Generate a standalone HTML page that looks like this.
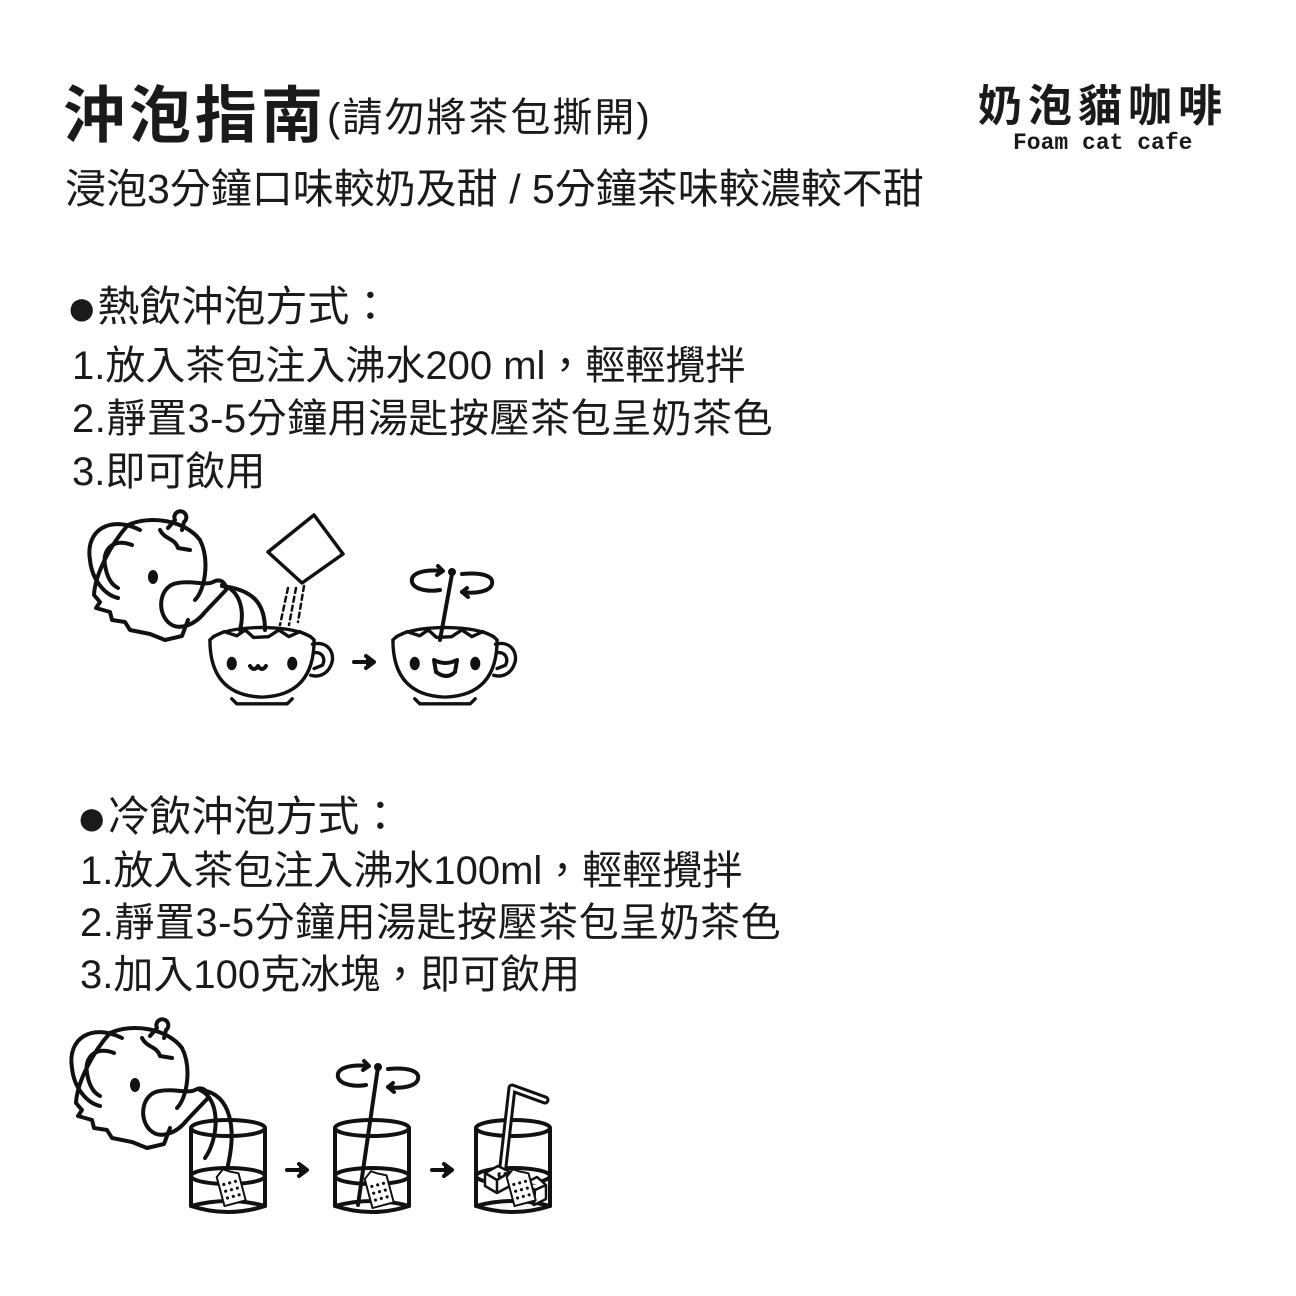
<!DOCTYPE html>
<html><head><meta charset="utf-8"><style>
html,body{margin:0;padding:0;background:#fff}
body{width:1296px;height:1296px;position:relative;overflow:hidden;font-family:"Liberation Sans","Noto Sans CJK TC",sans-serif;color:#1a1a1a}
.t{position:absolute;white-space:nowrap;line-height:1}
.b{font-size:52px;vertical-align:-4px}
</style></head><body>
<div class="t" style="left:63px;top:86px;font-size:62px;font-weight:bold;letter-spacing:4px">沖泡指南<span style="font-size:40px;font-weight:normal;letter-spacing:2px;vertical-align:6px">(請勿將茶包撕開)</span></div>
<div class="t" style="left:65px;top:169px;font-size:41px">浸泡3分鐘口味較奶及甜 / 5分鐘茶味較濃較不甜</div>
<div class="t" style="left:978px;top:85px;font-size:44px;font-weight:bold;letter-spacing:6px">奶泡貓咖啡</div>
<div class="t" style="left:1013px;top:132px;font-size:23px;font-weight:bold;font-family:'Liberation Mono',monospace">Foam cat cafe</div>

<div class="t" style="left:66px;top:282px;font-size:42px"><span class="b">●</span>熱飲沖泡方式：</div>
<div class="t" style="left:72px;top:346px;font-size:40px">1.放入茶包注入沸水200 ml，輕輕攪拌</div>
<div class="t" style="left:72px;top:399px;font-size:40px;letter-spacing:0.5px">2.靜置3-5分鐘用湯匙按壓茶包呈奶茶色</div>
<div class="t" style="left:72px;top:452px;font-size:40px">3.即可飲用</div>

<div class="t" style="left:76px;top:792px;font-size:42px"><span class="b">●</span>冷飲沖泡方式：</div>
<div class="t" style="left:80px;top:851px;font-size:40px">1.放入茶包注入沸水100ml，輕輕攪拌</div>
<div class="t" style="left:80px;top:903px;font-size:40px;letter-spacing:0.5px">2.靜置3-5分鐘用湯匙按壓茶包呈奶茶色</div>
<div class="t" style="left:80px;top:955px;font-size:40px">3.加入100克冰塊，即可飲用</div>

<svg width="1296" height="1296" style="position:absolute;left:0;top:0" fill="none" stroke="#111" stroke-width="4" stroke-linecap="round" stroke-linejoin="round">
<defs>
<g id="pot">
  <path d="M140,530 C110,515 85,530 90,560 C92,580 105,595 118,598" />
  <path d="M132,545 C115,538 102,548 105,565 C107,578 112,585 118,588"/>
  <path d="M128,525 C150,515 185,520 200,540 C210,560 205,590 195,600"/>
  <path d="M128,525 C110,545 95,575 94,595 L100,602 L96,608 L110,612 L112,620 L125,622 L130,630 L150,634 L165,640 L182,636 L188,620"/>
  <path d="M168,528 L175,520 A6,6 0 1 1 184,522 L182,530"/>
  <path d="M160,530 C165,540 175,538 178,548 L190,550"/>
  <path d="M178,583 C160,585 156,610 168,622 C178,632 195,625 205,612 L226,590 C226,582 220,578 213,582 C205,586 192,580 178,583Z"/>
  <ellipse cx="153" cy="577" rx="5" ry="7" fill="#111" stroke="none"/>
</g>
<g id="cup">
  <path d="M-62,0 Q-62,66 0,68 Q62,66 62,0"/>
  <path d="M-62,0 Q-50,-14 0,-15 Q50,-14 62,0"/>
  <path d="M-58,-4 L-45,-10 L-30,-5 L-20,-12 L-10,-3 L8,-4 L20,-12 L32,-4 L45,-10 L58,-4"/>
  <path d="M-36,70 L-30,76 L30,76 L36,70"/>
  <path d="M60,5 C80,0 88,18 82,30 C78,40 68,45 58,42"/>
  <path d="M62,15 C72,14 76,22 72,30 L62,34"/>
  <ellipse cx="-36" cy="28" rx="6" ry="8" fill="#111" stroke="none"/>
  <ellipse cx="36" cy="28" rx="6" ry="8" fill="#111" stroke="none"/>
</g>
<g id="glass">
  <ellipse cx="0" cy="0" rx="37" ry="8"/>
  <path d="M-37,0 L-37,78 Q0,90 37,78 L37,0"/>
  <path d="M-37,78 Q0,68 37,78"/>
  <ellipse cx="0" cy="48" rx="37" ry="8"/>
</g>
<g id="bag">
  <path d="M-10,-14 L-2,-20 L4,-16 L12,-12 L12,16 L-10,16 Z" stroke-width="2" fill="#fff"/>
  <g fill="#111" stroke="none">
   <circle cx="-5" cy="-5" r="1.6"/><circle cx="1" cy="-5" r="1.6"/><circle cx="7" cy="-5" r="1.6"/>
   <circle cx="-5" cy="2" r="1.6"/><circle cx="1" cy="2" r="1.6"/><circle cx="7" cy="2" r="1.6"/>
   <circle cx="-5" cy="9" r="1.6"/><circle cx="1" cy="9" r="1.6"/><circle cx="7" cy="9" r="1.6"/>
  </g>
</g>
<g id="spin">
  <path d="M-10,-3 C-30,-5 -42,0 -40,8 C-38,16 -22,18 -12,16"/>
  <path d="M-14,-8 L-9,-3 L-15,1"/>
  <path d="M10,0 C30,-2 42,2 40,10 C38,18 22,20 10,18"/>
  <path d="M15,14 L10,18 L16,23"/>
  <circle cx="0" cy="-2" r="4" fill="#111" stroke="none"/>
</g>
<g id="arr"><path d="M0,0 L18,0"/><path d="M12,-6 L20,0 L12,6" fill="#111"/></g>
</defs>

<!-- hot -->
<use href="#pot"/>
<path d="M222,585 C240,590 245,610 240,630"/>
<path d="M222,586 C255,590 265,605 265,630"/>
<path d="M268,552 L314,515 L343,554 L302,583 Z" stroke-width="3.5"/>
<g stroke-width="2.5" stroke-dasharray="5,4"><path d="M288,588 L280,625"/><path d="M296,588 L289,625"/><path d="M304,586 L298,622"/></g>
<g transform="translate(262,640) scale(0.84)"><use href="#cup"/></g>
<path d="M250,666 q4,6 8,0 q4,6 8,0"/>
<use href="#arr" x="354" y="662"/>
<g transform="translate(445,640) scale(0.84)"><use href="#cup"/></g>
<path d="M434,660 L436,672 Q447,680 455,672 L457,660 Q445,666 434,660Z"/>
<path d="M452,574 L440,640"/>
<use href="#spin" x="452" y="574"/>

<!-- cold -->
<g transform="translate(-18,508)"><use href="#pot"/></g>
<path d="M200,1090 C222,1100 218,1140 205,1158"/>
<path d="M202,1090 C232,1095 236,1130 228,1165"/>
<use href="#glass" x="228" y="1128"/>
<use href="#bag" transform="translate(230,1188) rotate(-15)"/>
<use href="#arr" x="287" y="1170"/>
<use href="#glass" x="372" y="1128"/>
<path d="M378,1067 L358,1205"/>
<use href="#bag" transform="translate(378,1190) rotate(-15)"/>
<use href="#spin" x="378" y="1069"/>
<use href="#arr" x="432" y="1170"/>
<use href="#glass" x="513" y="1128"/>
<path d="M502,1175 L512,1088 L545,1100" stroke-width="9"/>
<path d="M502,1175 L512,1088 L545,1100" stroke="#fff" stroke-width="3"/>
<path d="M485,1173 L498,1166 L510,1172 L510,1186 L497,1193 L485,1186Z M485,1173 L497,1180 L510,1172 M497,1180 L497,1193" stroke-width="2.5" fill="#fff"/>
<path d="M525,1183 L537,1177 L546,1185 L546,1199 L534,1205 L525,1198Z M525,1183 L535,1190 L546,1185 M535,1190 L534,1205" stroke-width="2.5" fill="#fff"/>
<use href="#bag" transform="translate(520,1188) rotate(-15)"/>
</svg>
</body></html>
